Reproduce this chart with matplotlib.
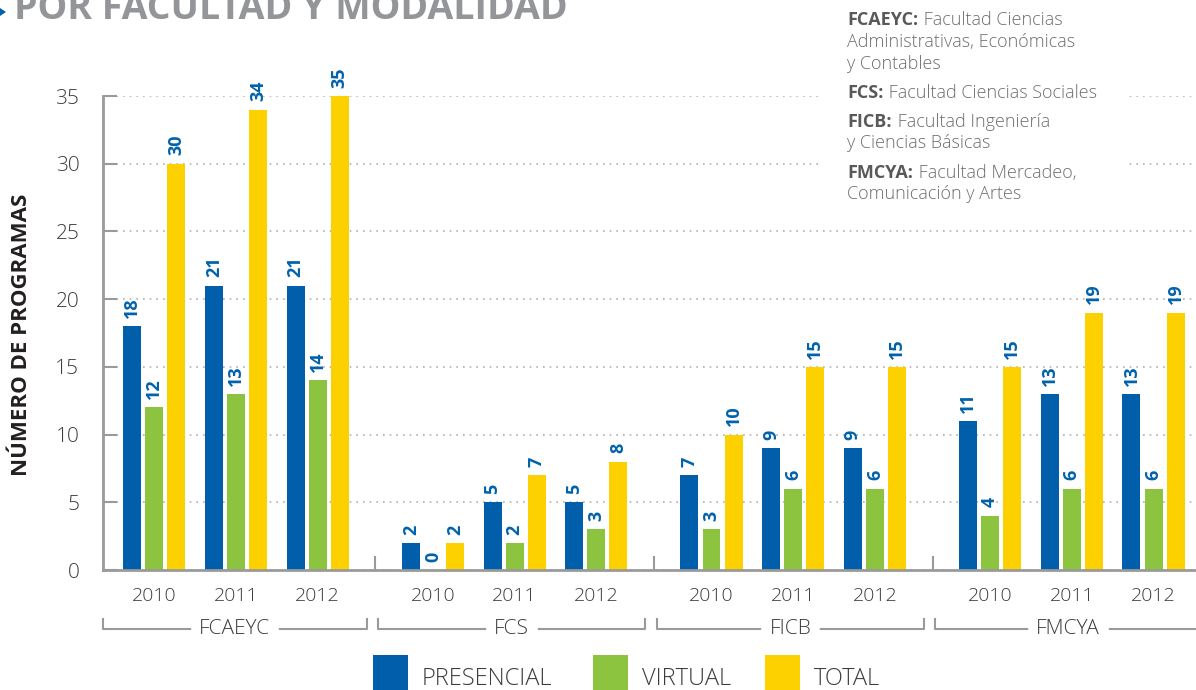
import matplotlib
matplotlib.use("Agg")
import matplotlib.pyplot as plt
from matplotlib.patches import Rectangle, Polygon

# ---------------- data ----------------
faculties = ["FCAEYC", "FCS", "FICB", "FMCYA"]
years = ["2010", "2011", "2012"]
series_names = ["PRESENCIAL", "VIRTUAL", "TOTAL"]
presencial = [[18, 21, 21], [2, 5, 5], [7, 9, 9], [11, 13, 13]]
virtual = [[12, 13, 14], [0, 2, 3], [3, 6, 6], [4, 6, 6]]
total = [[30, 34, 35], [2, 7, 8], [10, 15, 15], [15, 19, 19]]
y_ticks = [0, 5, 10, 15, 20, 25, 30, 35]
notes = [
    ("FCAEYC:", ["Facultad Ciencias", "Administrativas, Económicas", "y Contables"]),
    ("FCS:", ["Facultad Ciencias Sociales"]),
    ("FICB:", ["Facultad Ingeniería", "y Ciencias Básicas"]),
    ("FMCYA:", ["Facultad Mercadeo,", "Comunicación y Artes"]),
]
title = "POR FACULTAD Y MODALIDAD"
ylabel = "NÚMERO DE PROGRAMAS"

# ---------------- style ----------------
W, H = 1196, 690
colors = ["#005EAA", "#8CC43F", "#FDD000"]
label_blue = "#0062AC"
txt = "#3c3c3c"
gray_line = "#9a9a9a"
FONT = ["Open Sans", "DejaVu Sans"]
plt.rcParams["font.family"] = FONT

fig = plt.figure(figsize=(W / 100, H / 100), dpi=100)

def fx(px):
    return px / W

def fy(py):
    return 1 - py / H

ax = fig.add_axes([fx(103), fy(570), fx(1196 - 103), (570 - 96) / H])

group_step = 3.41
bar_off = 0.27
bar_w = 0.22

series = [presencial, virtual, total]
xs_major = []
for g, fac in enumerate(faculties):
    for j, yr in enumerate(years):
        c = g * group_step + (j - 1)
        xs_major.append(c)
        for s in range(3):
            v = series[s][g][j]
            x = c + (s - 1) * bar_off
            ax.bar(x, v, width=bar_w, color=colors[s], zorder=2, linewidth=0)
            ax.annotate(str(v), xy=(x, v), xytext=(0, 6), textcoords="offset points",
                        rotation=90, ha="center", va="bottom", color=label_blue,
                        fontsize=13, fontweight="bold", zorder=3)

ax.set_xlim(-1.628, 11.75)
ax.set_ylim(0, 35)

# spines
for sp in ["top", "right"]:
    ax.spines[sp].set_visible(False)
for sp in ["left", "bottom"]:
    ax.spines[sp].set_color(gray_line)
    ax.spines[sp].set_linewidth(2)

# y ticks
ax.set_yticks(y_ticks)
ax.set_yticklabels([str(t) for t in y_ticks])
ax.tick_params(axis="y", direction="in", length=10, width=1.5, color=gray_line,
               pad=17, labelsize=15, labelcolor=txt)
for t in ax.get_yticklabels():
    t.set_fontweight("light")

# grid
ax.set_axisbelow(True)
ax.yaxis.grid(True, linestyle=(0, (1, 3)), color="#b0b0b0", linewidth=1.2)
ax.xaxis.grid(False)

# x ticks: years
ax.set_xticks(xs_major)
ax.set_xticklabels(years * len(faculties))
ax.tick_params(axis="x", which="major", length=0, pad=12, labelsize=14, labelcolor=txt)
for t in ax.get_xticklabels():
    t.set_fontweight("light")
# separators between groups
seps = [g * group_step + group_step / 2 for g in range(len(faculties) - 1)]
ax.set_xticks(seps, minor=True)
ax.tick_params(axis="x", which="minor", direction="in", length=10, width=1.5, color=gray_line)

# brackets and group labels
trans = ax.get_xaxis_transform()
y_br = -(629 - 570) / (570 - 96)
y_br_top = -(619 - 570) / (570 - 96)
for g, fac in enumerate(faculties):
    c = g * group_step
    left = max(c - 1.67, -1.628) if g > 0 else -1.628
    right = c + 1.60 if g < len(faculties) - 1 else 12.2
    ax.plot([left, left, right, right], [y_br_top, y_br, y_br, y_br_top], transform=trans,
            color=gray_line, linewidth=1.5, clip_on=False, zorder=1)
    mid = (left + right) / 2 if g < len(faculties) - 1 else c - 0.05
    ax.text(mid, y_br, fac, transform=trans, ha="center", va="center", fontsize=15,
            fontweight="light", color=txt, zorder=4,
            bbox=dict(boxstyle="square,pad=0", facecolor="white", edgecolor="white",
                      linewidth=12))

# white panel behind the notes (hides gridlines)
panel = Rectangle((fx(820), fy(210)), fx(1127 - 820), 210 / H, transform=fig.transFigure,
                  facecolor="white", edgecolor="none", zorder=1.5, clip_on=False)
ax.add_patch(panel)

# notes text
note_color = "#6d6e71"
bold_color = "#58595b"
baselines = [[25, 47, 69], [98], [127, 148], [178, 199]]
renderer = fig.canvas.get_renderer()
for (head, lines), bls in zip(notes, baselines):
    for k, (line, bl) in enumerate(zip(lines, bls)):
        if k == 0:
            th = fig.text(fx(847), fy(bl), head, ha="left", va="baseline", fontsize=13,
                          fontweight="bold", color=bold_color, zorder=5)
            bb = th.get_window_extent(renderer)
            fig.text(bb.x1 / W + fx(1), fy(bl), " " + line, ha="left", va="baseline",
                     fontsize=13, fontweight="light", color=note_color, zorder=5)
        else:
            fig.text(fx(847), fy(bl), line, ha="left", va="baseline", fontsize=13,
                     fontweight="light", color=note_color, zorder=5)

# title (partially cut at top, as in the source)
fig.text(fx(14), fy(19), title, ha="left", va="baseline", fontsize=27,
         fontweight="bold", color="#939598")
fig.patches.append(Polygon([(fx(0), fy(8)), (fx(6), fy(12)), (fx(0), fy(16))],
                           closed=True, transform=fig.transFigure,
                           facecolor="#0062AC", edgecolor="none"))

# y label
fig.text(fx(22), fy(335), ylabel, rotation=90, ha="center", va="center", fontsize=16,
         fontweight="bold", color="#231f20")

# legend
leg_x = [373, 593, 765]
for s, name in enumerate(series_names):
    fig.patches.append(Rectangle((fx(leg_x[s]), 0), fx(35), 35 / H,
                                 transform=fig.transFigure, facecolor=colors[s],
                                 edgecolor="none"))
    fig.text(fx(leg_x[s] + 49), fy(679), name, ha="left", va="center", fontsize=17,
             fontweight="light", color=txt)

fig.savefig("out.png", dpi=100)
